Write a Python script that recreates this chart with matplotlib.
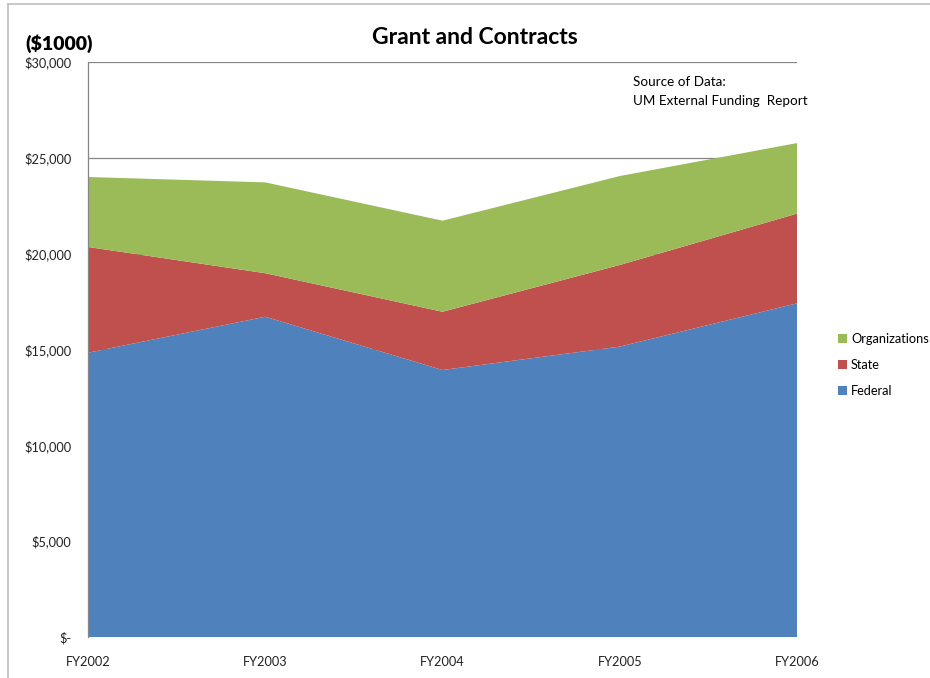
import matplotlib.pyplot as plt
from matplotlib.lines import Line2D
from matplotlib.ticker import FuncFormatter

plt.rcParams['font.family'] = ['Lato', 'DejaVu Sans']

years = ['FY2002', 'FY2003', 'FY2004', 'FY2005', 'FY2006']
federal = [14830, 16710, 13930, 15150, 17410]
state = [5520, 2270, 3040, 4260, 4680]
organizations = [3650, 4740, 4750, 4640, 3680]

series_names = ['Federal', 'State', 'Organizations']
colors = ['#4F81BD', '#C0504D', '#9BBB59']


def money(v, pos):
    if v == 0:
        return '$-'
    return f'${v:,.0f}'


fig = plt.figure(figsize=(9.3, 6.78), dpi=100)
ax = fig.add_axes([88 / 930, 1 - 637 / 678, (797 - 88) / 930, (637 - 62) / 678])

x = list(range(len(years)))
polys = ax.stackplot(x, federal, state, organizations,
                     colors=colors, labels=series_names, zorder=2)

ax.set_xlim(0, len(years) - 1)
ax.set_ylim(0, 30000)
ax.set_yticks(range(0, 30001, 5000))
ax.yaxis.set_major_formatter(FuncFormatter(money))
ax.set_xticks(x)
ax.set_xticklabels(years)
ax.tick_params(axis='both', length=0, labelsize=9.2, colors='#222222')
ax.tick_params(axis='y', pad=12)
ax.tick_params(axis='x', pad=14)

ax.grid(axis='y', color='#868686', linewidth=0.9, zorder=0)
ax.set_axisbelow(True)
for side in ['top', 'right', 'bottom']:
    ax.spines[side].set_visible(False)
ax.spines['left'].set_color('#868686')
ax.spines['left'].set_linewidth(0.9)

# legend listed top-down in reverse stack order
handles = polys[::-1]
labels = series_names[::-1]
fig.legend(handles, labels, loc='center left', bbox_to_anchor=(833 / 930, 1 - 365 / 678),
           frameon=False, fontsize=9.2, handlelength=0.7, handleheight=0.7,
           handletextpad=0.3, labelspacing=1.1, borderaxespad=0)

fig.text(475 / 930, 1 - 37 / 678, 'Grant and Contracts', ha='center', va='center',
         fontsize=16.5, fontweight='bold')
fig.text(25 / 930, 1 - 44 / 678, '($1000)', ha='left', va='center',
         fontsize=14, fontweight='heavy')
fig.text(633 / 930, 1 - 82 / 678, 'Source of Data:', ha='left', va='center', fontsize=9.7)
fig.text(633 / 930, 1 - 101 / 678, 'UM External Funding  Report', ha='left', va='center', fontsize=9.7)

# outer chart frame
fig.add_artist(Line2D([8 / 930, 8 / 930], [0, 1 - 4 / 678], color='#BFBFBF', linewidth=1.2))
fig.add_artist(Line2D([8 / 930, 1], [1 - 4 / 678, 1 - 4 / 678], color='#BFBFBF', linewidth=1.2))

fig.savefig('out.png', dpi=100)
